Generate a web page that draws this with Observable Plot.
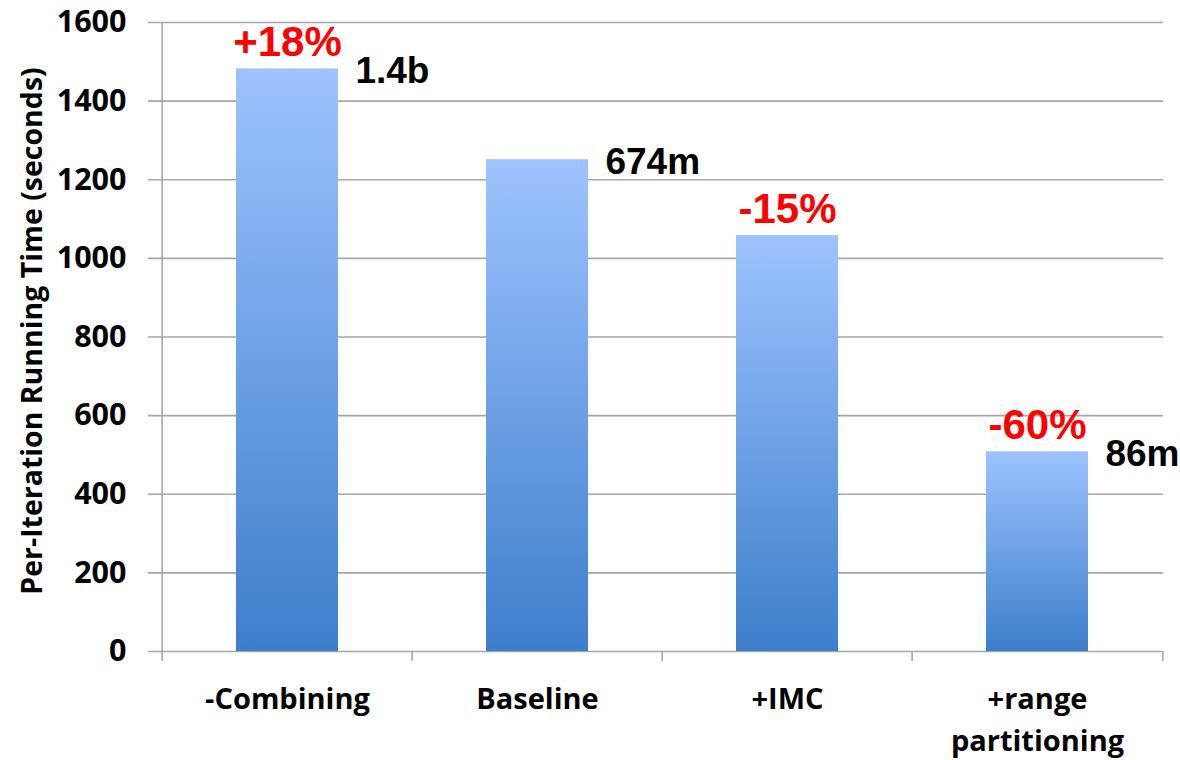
<!DOCTYPE html>
<html>
<head>
<meta charset="utf-8">
<script src="https://cdn.jsdelivr.net/npm/d3@7"></script>
<script src="https://cdn.jsdelivr.net/npm/@observablehq/plot@0.6"></script>
<style>
  html, body { margin: 0; padding: 0; background: #fff; }
  #chart svg { display: block; }
</style>
</head>
<body>
<div id="chart"></div>
<script>
// Per-iteration running time for each configuration
const categories = ["-Combining", "Baseline", "+IMC", "+range\npartitioning"];
const seconds = [1482, 1251, 1058, 508];
const changeLabels = ["+18%", "", "-15%", "-60%"];   // relative to Baseline
const sizeLabels = ["1.4b", "674m", "", "86m"];
const yTicks = [0, 200, 400, 600, 800, 1000, 1200, 1400, 1600];
const yTitle = "Per-Iteration Running Time (seconds)";

const rows = categories.map((name, i) => ({
  name, value: seconds[i], change: changeLabels[i], size: sizeLabels[i]
}));

const width = 1180, height = 760;
const marginLeft = 160, marginRight = 17, marginTop = 22, marginBottom = 109;
const paddingInner = 0.594, paddingOuter = 0.297;
const step = (width - marginLeft - marginRight) / (categories.length - paddingInner + 2 * paddingOuter);
const bandwidth = step * (1 - paddingInner);

const gridColor = "#a6a6a6";
const labelFont = "Liberation Sans, Arial, sans-serif";

// vertical gradient applied to each bar
const gradientDefs = () => {
  const ns = "http://www.w3.org/2000/svg";
  const defs = document.createElementNS(ns, "defs");
  const g = document.createElementNS(ns, "linearGradient");
  g.setAttribute("id", "barFill");
  g.setAttribute("x1", "0"); g.setAttribute("y1", "0");
  g.setAttribute("x2", "0"); g.setAttribute("y2", "1");
  [["0%", "#9dc3ff"], ["100%", "#3d7ecb"]].forEach(([o, c]) => {
    const s = document.createElementNS(ns, "stop");
    s.setAttribute("offset", o);
    s.setAttribute("stop-color", c);
    g.appendChild(s);
  });
  defs.appendChild(g);
  return defs;
};

const chart = Plot.plot({
  width, height, marginLeft, marginRight, marginTop, marginBottom,
  style: { fontFamily: "'Open Sans', sans-serif", background: "#fff", color: "#000" },
  x: { domain: categories, paddingInner, paddingOuter, label: null },
  y: { domain: [0, 1600], label: null },
  marks: [
    gradientDefs,
    // horizontal gridlines with short ticks left of the axis
    Plot.ruleY(yTicks, { stroke: gridColor, strokeWidth: 1.6, insetLeft: -12 }),
    // vertical axis line
    Plot.ruleX([categories[0]], {
      x: d => d, dx: -step / 2, y1: () => 1600, y2: () => 0,
      insetBottom: -10, stroke: gridColor, strokeWidth: 1.6
    }),
    // category boundary ticks below the baseline
    Plot.ruleX(categories.slice(1), {
      x: d => d, dx: -step / 2, y1: () => 0, y2: () => 0,
      insetBottom: -10, stroke: gridColor, strokeWidth: 1.6
    }),
    Plot.ruleX([categories[categories.length - 1]], {
      x: d => d, dx: step / 2, y1: () => 0, y2: () => 0,
      insetBottom: -10, stroke: gridColor, strokeWidth: 1.6
    }),
    Plot.barY(rows, { x: "name", y: "value", fill: "url(#barFill)" }),
    Plot.axisY({
      ticks: yTicks, tickFormat: d => String(d), tickSize: 0, tickPadding: 34,
      fontSize: 30.5, fontWeight: "bold", label: null
    }),
    Plot.axisX({
      tickSize: 0, tickPadding: 28, fontSize: 29, fontWeight: "bold",
      lineHeight: 1.45, label: null
    }),
    Plot.text([yTitle], {
      text: d => d, frameAnchor: "left", textAnchor: "middle", rotate: -90, dx: -128, dy: -6,
      fontSize: 28.5, fontWeight: "bold", fill: "#000"
    }),
    // percentage change above the bars
    Plot.text(rows.filter(d => d.change), {
      x: "name", y: "value", text: "change", lineAnchor: "bottom", dy: -13,
      fill: "#ff0000", fontSize: 42, fontWeight: "bold", fontFamily: labelFont
    }),
    // record counts to the right of the bar tops
    Plot.text(rows.filter(d => d.size), {
      x: "name", y: "value", text: "size", lineAnchor: "bottom",
      textAnchor: "start", dx: bandwidth / 2 + 17, dy: 14,
      fill: "#000", fontSize: 37, fontWeight: "bold", fontFamily: labelFont
    })
  ]
});

document.getElementById("chart").appendChild(chart);
</script>
</body>
</html>
